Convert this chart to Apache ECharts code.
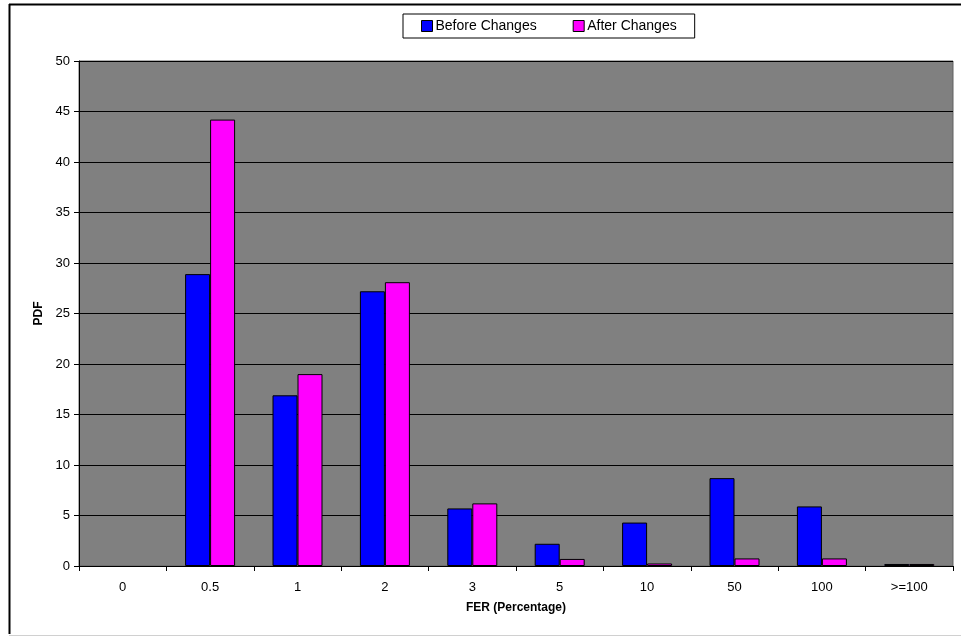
<!DOCTYPE html>
<html>
<head>
<meta charset="utf-8">
<script src="https://cdn.jsdelivr.net/npm/echarts@6/dist/echarts.min.js"></script>
<style>
  html, body { margin: 0; padding: 0; background: #fff; }
  #chart { width: 961px; height: 637px; }
</style>
</head>
<body>
<div id="chart"></div>
<script>
// FER bins (percentage) and the PDF of each bin
const categories = ['0', '0.5', '1', '2', '3', '5', '10', '50', '100', '>=100'];
const beforeChanges = [0, 28.9, 16.9, 27.2, 5.7, 2.2, 4.3, 8.7, 5.9, 0.2];
const afterChanges  = [0, 44.2, 19.0, 28.1, 6.2, 0.7, 0.25, 0.75, 0.75, 0.2];
const yTicks = { min: 0, max: 50, interval: 5 };

// empty bins get no outline, so nothing shows where a value is zero
function barData(values) {
  return values.map(v => (v === 0 ? { value: v, itemStyle: { borderWidth: 0, opacity: 0 } } : v));
}

const chart = echarts.init(document.getElementById('chart'), null, { renderer: 'canvas' });
const font = "Arial, 'Liberation Sans', sans-serif";

chart.setOption({
  backgroundColor: '#ffffff',
  animation: false,
  textStyle: { fontFamily: font },
  graphic: [
    // chart frame
    { type: 'line', shape: { x1: 9, y1: 4.5, x2: 961, y2: 4.5 }, style: { stroke: '#000', lineWidth: 2 } },
    { type: 'line', shape: { x1: 9.5, y1: 4, x2: 9.5, y2: 634 }, style: { stroke: '#000', lineWidth: 2 } },
    { type: 'line', shape: { x1: 9, y1: 635.5, x2: 961, y2: 635.5 }, style: { stroke: '#d0d0d0', lineWidth: 1 } }
  ],
  legend: {
    left: 403,
    top: 14,
    padding: [5, 18, 5, 18],
    backgroundColor: '#ffffff',
    borderColor: '#000',
    borderWidth: 1,
    borderRadius: 0,
    itemWidth: 11,
    itemHeight: 11,
    itemGap: 36,
    icon: 'rect',
    itemStyle: { borderColor: '#000', borderWidth: 1 },
    textStyle: { fontFamily: font, fontSize: 14, color: '#000', padding: [0, 0, 0, -2] },
    data: ['Before Changes', 'After Changes']
  },
  grid: {
    left: 79,
    right: 8,
    top: 61,
    bottom: 71,
    show: true,
    backgroundColor: '#808080',
    borderColor: '#606060',
    borderWidth: 1
  },
  xAxis: {
    type: 'category',
    data: categories,
    name: 'FER (Percentage)',
    nameLocation: 'middle',
    nameGap: 36,
    nameTextStyle: { fontFamily: font, fontSize: 12, fontWeight: 'bold', color: '#000' },
    axisLine: { show: true, lineStyle: { color: '#000', width: 1 } },
    axisTick: { show: true, alignWithLabel: false, length: 5, lineStyle: { color: '#000' } },
    axisLabel: { fontFamily: font, fontSize: 13, color: '#000', margin: 15 },
    splitLine: { show: false }
  },
  yAxis: {
    type: 'value',
    min: yTicks.min,
    max: yTicks.max,
    interval: yTicks.interval,
    name: 'PDF',
    nameLocation: 'middle',
    nameGap: 34,
    nameRotate: 90,
    nameTextStyle: { fontFamily: font, fontSize: 12, fontWeight: 'bold', color: '#000' },
    axisLine: { show: true, lineStyle: { color: '#000', width: 1 } },
    axisTick: { show: true, length: 5, lineStyle: { color: '#000' } },
    axisLabel: { fontFamily: font, fontSize: 13, color: '#000', margin: 9 },
    splitLine: { show: true, lineStyle: { color: '#000', width: 1 } }
  },
  series: [
    {
      name: 'Before Changes',
      type: 'bar',
      data: barData(beforeChanges),
      barWidth: 25,
      barGap: '0%',
      itemStyle: { color: '#0000ff', borderColor: '#000', borderWidth: 1 }
    },
    {
      name: 'After Changes',
      type: 'bar',
      data: barData(afterChanges),
      barWidth: 25,
      barGap: '0%',
      itemStyle: { color: '#ff00ff', borderColor: '#000', borderWidth: 1 }
    }
  ]
});
</script>
</body>
</html>
